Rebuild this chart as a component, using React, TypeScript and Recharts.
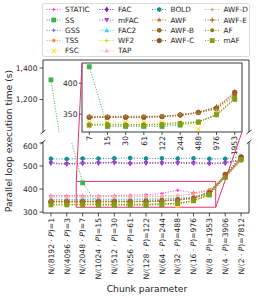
import React from 'react';
import { LineChart, Line, XAxis, YAxis, ReferenceArea } from 'recharts';

// ---------- data ----------
const chunkSizes = [1, 3, 7, 15, 30, 61, 122, 244, 488, 976, 1953, 3906, 7812];
const chunkDivisors = [8192, 4096, 2048, 1024, 512, 256, 128, 64, 32, 16, 8, 4, 2];

const staticTimes = [372, 371, 372, 371, 372, 373, 375, 381, 395, 384, 392, 455, 528];
const ssTimes = [1325, 680, 427, 330, 330, 330, 330, 332, 337, 350, 374, 452, 530];
const gssTimes = [356, 355, 356, 356, 356, 356, 357, 358, 360, 366, 385, 455, 528];
const tssTimes = [366, 366, 366, 366, 367, 366, 367, 368, 370, 380, 398, 448, 522];
const fscTimes = [338, 338, 337, 337, 337, 337, 337, 336, 326, 352, 376, 450, 525];
const facTimes = [514, 510, 513, 514, 516, 512, 515, 514, 515, 514, 512, 514, 528];
const mfacTimes = [511, 507, 510, 511, 513, 509, 512, 511, 512, 511, 509, 511, 525];
const fac2Times = [352, 352, 353, 352, 353, 353, 354, 355, 358, 365, 388, 458, 532];
const wf2Times = [350, 350, 350, 350, 351, 351, 352, 353, 356, 364, 384, 455, 530];
const tapTimes = [369, 368, 369, 369, 369, 369, 370, 371, 373, 377, 392, 452, 526];
const boldTimes = [531, 530, 532, 532, 533, 535, 532, 533, 532, 534, 531, 531, 540];
const awfTimes = [346, 346, 346, 346, 346, 346, 346, 349, 353, 361, 387, 462, 538];
const awfBTimes = [345, 345, 345, 345, 345, 345, 346, 348, 352, 360, 380, 458, 532];
const awfCTimes = [344, 344, 345, 345, 345, 345, 346, 349, 353, 359, 385, 464, 540];
const awfDTimes = [347, 347, 347, 347, 347, 347, 347, 349, 352, 358, 378, 455, 530];
const awfETimes = [345, 345, 345, 345, 345, 345, 346, 348, 353, 362, 383, 460, 535];
const afTimes = [332, 332, 333, 334, 333, 333, 334, 336, 338, 348, 374, 455, 530];
const mafTimes = [331, 331, 332, 332, 332, 332, 333, 334, 337, 349, 376, 450, 527];

const topTicks = [1000, 1200, 1400];
const bottomTicks = [300, 400, 500, 600];
const insetYTicks = [350, 400];

type Shape = 'square' | 'circle' | 'diamond' | 'hex' | 'triUp' | 'triDown' | 'plus' | 'x' | 'star';
interface Series { name: string; values: number[]; color: string; shape: Shape; size: number; }

const SERIES: Series[] = [
  { name: 'STATIC', values: staticTimes, color: '#f046e6', shape: 'plus', size: 3.5 },
  { name: 'SS', values: ssTimes, color: '#3cb44b', shape: 'square', size: 4.8 },
  { name: 'GSS', values: gssTimes, color: '#5a7cf5', shape: 'plus', size: 3.5 },
  { name: 'TSS', values: tssTimes, color: '#ff8a30', shape: 'circle', size: 3.6 },
  { name: 'FSC', values: fscTimes, color: '#ffe135', shape: 'x', size: 4 },
  { name: 'FAC', values: facTimes, color: '#8b1fa9', shape: 'diamond', size: 5 },
  { name: 'mFAC', values: mfacTimes, color: '#a540d8', shape: 'triDown', size: 5 },
  { name: 'FAC2', values: fac2Times, color: '#42d4f4', shape: 'triUp', size: 5 },
  { name: 'WF2', values: wf2Times, color: '#b5e61d', shape: 'plus', size: 4 },
  { name: 'TAP', values: tapTimes, color: '#fbb0b4', shape: 'triUp', size: 4.5 },
  { name: 'BOLD', values: boldTimes, color: '#16918c', shape: 'hex', size: 5 },
  { name: 'AWF', values: awfTimes, color: '#c27c3a', shape: 'star', size: 5 },
  { name: 'AWF-B', values: awfBTimes, color: '#9a6324', shape: 'circle', size: 4.8 },
  { name: 'AWF-C', values: awfCTimes, color: '#8a5525', shape: 'circle', size: 5.2 },
  { name: 'AWF-D', values: awfDTimes, color: '#d4a574', shape: 'plus', size: 3.5 },
  { name: 'AWF-E', values: awfETimes, color: '#a56a2c', shape: 'plus', size: 5 },
  { name: 'AF', values: afTimes, color: '#7d8400', shape: 'circle', size: 4 },
  { name: 'mAF', values: mafTimes, color: '#8a9a12', shape: 'square', size: 4.8 },
];
const INSET_SERIES = ['SS', 'FSC', 'AWF', 'AWF-B', 'AWF-C', 'AWF-D', 'AWF-E', 'AF', 'mAF'];

const rows = chunkSizes.map((_, i) => {
  const r: Record<string, number> = { idx: i };
  SERIES.forEach((s) => { r[s.name] = s.values[i]; });
  return r;
});
const insetRows = rows.slice(2, 11);

// ---------- layout ----------
const FONT = 'DejaVu Sans';
const INK = '#262626';
const RED = '#e8336b';
const PL = 43, PR = 249;
const TOP_Y0 = 60, TOP_Y1 = 132;
const BOT_Y0 = 142, BOT_Y1 = 213;
const TOP_DOMAIN: [number, number] = [994, 1451];
const BOT_DOMAIN: [number, number] = [296, 604];
const X_DOMAIN: [number, number] = [-0.5, 12.5];
const IN_X0 = 82, IN_X1 = 242, IN_Y0 = 63, IN_Y1 = 132;
const IN_XDOMAIN: [number, number] = [1.6, 10.4];
const IN_YDOMAIN: [number, number] = [321, 433];

const mainX = (v: number) => PL + ((v - X_DOMAIN[0]) / (X_DOMAIN[1] - X_DOMAIN[0])) * (PR - PL);
const botY = (v: number) => BOT_Y1 - ((v - BOT_DOMAIN[0]) / (BOT_DOMAIN[1] - BOT_DOMAIN[0])) * (BOT_Y1 - BOT_Y0);

function MarkerShape({ cx, cy, shape, color, size }: { cx: number; cy: number; shape: Shape; color: string; size: number }) {
  if (cx == null || cy == null || isNaN(cx) || isNaN(cy)) return null;
  const h = size / 2;
  switch (shape) {
    case 'square':
      return <rect x={cx - h} y={cy - h} width={size} height={size} fill={color} />;
    case 'circle':
      return <circle cx={cx} cy={cy} r={h} fill={color} />;
    case 'diamond':
      return <polygon points={`${cx},${cy - h * 1.2} ${cx + h * 0.8},${cy} ${cx},${cy + h * 1.2} ${cx - h * 0.8},${cy}`} fill={color} />;
    case 'hex': {
      const pts = [0, 1, 2, 3, 4, 5].map((k) => {
        const a = -Math.PI / 2 + (k * Math.PI) / 3;
        return `${cx + h * Math.cos(a)},${cy + h * Math.sin(a)}`;
      }).join(' ');
      return <polygon points={pts} fill={color} />;
    }
    case 'triUp':
      return <polygon points={`${cx},${cy - h} ${cx + h},${cy + h * 0.8} ${cx - h},${cy + h * 0.8}`} fill={color} />;
    case 'triDown':
      return <polygon points={`${cx},${cy + h} ${cx + h},${cy - h * 0.8} ${cx - h},${cy - h * 0.8}`} fill={color} />;
    case 'plus':
      return (
        <g stroke={color} strokeWidth={1.1}>
          <line x1={cx - h} y1={cy} x2={cx + h} y2={cy} />
          <line x1={cx} y1={cy - h} x2={cx} y2={cy + h} />
        </g>
      );
    case 'x':
      return (
        <g stroke={color} strokeWidth={1.1}>
          <line x1={cx - h} y1={cy - h} x2={cx + h} y2={cy + h} />
          <line x1={cx - h} y1={cy + h} x2={cx + h} y2={cy - h} />
        </g>
      );
    case 'star': {
      const pts: string[] = [];
      for (let k = 0; k < 10; k++) {
        const a = -Math.PI / 2 + (k * Math.PI) / 5;
        const r = k % 2 === 0 ? h * 1.1 : h * 0.5;
        pts.push(`${cx + r * Math.cos(a)},${cy + r * Math.sin(a)}`);
      }
      return <polygon points={pts.join(' ')} fill={color} />;
    }
  }
  return null;
}

function renderLines(list: Series[], prefix: string) {
  return list.map((s) => (
    <Line
      key={prefix + s.name}
      type="linear"
      dataKey={s.name}
      stroke={s.color}
      strokeWidth={1}
      strokeDasharray="1 1.6"
      isAnimationActive={false}
      activeDot={false}
      dot={(p: any) => (
        <MarkerShape key={`${prefix}${s.name}-${p.index}`} cx={p.cx} cy={p.cy} shape={s.shape} color={s.color} size={s.size} />
      )}
    />
  ));
}

const MainTick = (props: any) => {
  const { x, y, payload } = props;
  const i = payload.value as number;
  return (
    <text x={x} y={y} transform={`rotate(-90, ${x}, ${y})`} textAnchor="end" dy="0.36em" fontSize={7.6} fill={INK} fontFamily={FONT}>
      N/({chunkDivisors[i]} · <tspan fontStyle="italic">P</tspan>)={chunkSizes[i]}
    </text>
  );
};

const InsetTick = (props: any) => {
  const { x, y, payload } = props;
  const i = payload.value as number;
  return (
    <text x={x} y={y} transform={`rotate(-90, ${x}, ${y})`} textAnchor="end" dy="0.36em" fontSize={7.6} fill={INK} fontFamily={FONT}>
      {chunkSizes[i]}
    </text>
  );
};

const yTickStyle = { fontSize: 7.6, fill: INK, fontFamily: FONT };
const fmt = (v: number) => v.toLocaleString('en-US');

export default function App() {
  const legendCols = [
    { lx: 46.5, items: SERIES.slice(0, 5) },
    { lx: 99.5, items: SERIES.slice(5, 10) },
    { lx: 152, items: SERIES.slice(10, 14) },
    { lx: 205, items: SERIES.slice(14, 18) },
  ];
  const rowY = [9.5, 20, 30.3, 40.6, 50.8];

  const rectL = mainX(IN_XDOMAIN[0]);
  const rectR = mainX(IN_XDOMAIN[1]);
  const rectT = botY(IN_YDOMAIN[1]);
  const rectB = botY(IN_YDOMAIN[0]);

  const brk = (x: number, y: number, k: string) => (
    <line key={k} x1={x - 2.5} y1={y + 2} x2={x + 2.5} y2={y - 2} stroke={INK} strokeWidth={0.9} />
  );

  return (
    <div style={{ position: 'absolute', left: 0, top: 0, width: 258, height: 298, background: '#fff', fontFamily: FONT, overflow: 'hidden' }}>
      {/* top panel (broken axis, upper part) */}
      <div style={{ position: 'absolute', left: 0, top: TOP_Y0 }}>
        <LineChart width={PR + 1} height={TOP_Y1 - TOP_Y0} data={rows} margin={{ top: 0, right: 1, bottom: 0, left: 0 }}>
          <XAxis type="number" dataKey="idx" domain={X_DOMAIN} allowDataOverflow hide />
          <YAxis
            type="number"
            domain={TOP_DOMAIN}
            allowDataOverflow
            ticks={topTicks}
            tickFormatter={fmt}
            width={PL}
            axisLine={false}
            tickLine={{ stroke: INK, strokeWidth: 0.8 }}
            tickSize={3.5}
            tickMargin={2}
            tick={yTickStyle}
          />
          {renderLines(SERIES, 't')}
        </LineChart>
      </div>

      {/* bottom panel */}
      <div style={{ position: 'absolute', left: 0, top: BOT_Y0 }}>
        <LineChart width={PR + 1} height={BOT_Y1 - BOT_Y0 + 80} data={rows} margin={{ top: 0, right: 1, bottom: 0, left: 0 }}>
          <XAxis
            type="number"
            dataKey="idx"
            domain={X_DOMAIN}
            allowDataOverflow
            ticks={chunkSizes.map((_, i) => i)}
            interval={0}
            height={80}
            axisLine={false}
            tickLine={{ stroke: INK, strokeWidth: 0.8 }}
            tickSize={3.5}
            tickMargin={1.5}
            tick={<MainTick />}
          />
          <YAxis
            type="number"
            domain={BOT_DOMAIN}
            allowDataOverflow
            ticks={bottomTicks}
            width={PL}
            axisLine={false}
            tickLine={{ stroke: INK, strokeWidth: 0.8 }}
            tickSize={3.5}
            tickMargin={2}
            tick={yTickStyle}
          />
          {renderLines(SERIES, 'b')}
          <ReferenceArea
            x1={IN_XDOMAIN[0]}
            x2={IN_XDOMAIN[1]}
            y1={IN_YDOMAIN[0]}
            y2={IN_YDOMAIN[1]}
            fill="none"
            fillOpacity={0}
            stroke={RED}
            strokeWidth={1}
            ifOverflow="visible"
          />
        </LineChart>
      </div>

      {/* inset */}
      <div style={{ position: 'absolute', left: IN_X0, top: IN_Y0, width: IN_X1 - IN_X0, height: IN_Y1 - IN_Y0, background: '#fff' }} />
      <div style={{ position: 'absolute', left: IN_X0 - 20, top: IN_Y0 }}>
        <LineChart width={IN_X1 - IN_X0 + 20} height={IN_Y1 - IN_Y0 + 22} data={insetRows} margin={{ top: 0, right: 0, bottom: 0, left: 0 }}>
          <XAxis
            type="number"
            dataKey="idx"
            domain={IN_XDOMAIN}
            allowDataOverflow
            ticks={[2, 3, 4, 5, 6, 7, 8, 9, 10]}
            interval={0}
            height={22}
            axisLine={false}
            tickLine={{ stroke: INK, strokeWidth: 0.8 }}
            tickSize={3}
            tickMargin={1}
            tick={<InsetTick />}
          />
          <YAxis
            type="number"
            domain={IN_YDOMAIN}
            allowDataOverflow
            ticks={insetYTicks}
            width={20}
            axisLine={false}
            tickLine={{ stroke: INK, strokeWidth: 0.8 }}
            tickSize={3}
            tickMargin={1.5}
            tick={yTickStyle}
          />
          {renderLines(SERIES.filter((s) => INSET_SERIES.includes(s.name)), 'i')}
        </LineChart>
      </div>

      {/* frames, breaks, connectors, legend, titles */}
      <svg width={258} height={298} style={{ position: 'absolute', left: 0, top: 0, pointerEvents: 'none' }}>
        <g stroke={INK} strokeWidth={0.9} fill="none">
          <polyline points={`${PL},${TOP_Y1} ${PL},${TOP_Y0} ${PR},${TOP_Y0} ${PR},${TOP_Y1}`} />
          <polyline points={`${PL},${BOT_Y0} ${PL},${BOT_Y1} ${PR},${BOT_Y1} ${PR},${BOT_Y0}`} />
          <rect x={IN_X0} y={IN_Y0} width={IN_X1 - IN_X0} height={IN_Y1 - IN_Y0} />
        </g>
        {brk(PL, TOP_Y1, 'b1')}
        {brk(PR, TOP_Y1, 'b2')}
        {brk(PL, BOT_Y0, 'b3')}
        {brk(PR, BOT_Y0, 'b4')}
        <line x1={rectL} y1={rectT} x2={IN_X0} y2={IN_Y0} stroke={RED} strokeWidth={1} />
        <line x1={rectR} y1={rectB} x2={IN_X1} y2={IN_Y1} stroke={RED} strokeWidth={1} />

        <rect x={42.5} y={3.5} width={207} height={53} rx={2} fill="#fff" stroke="#d0d0d0" strokeWidth={0.8} />
        {legendCols.map((col, ci) =>
          col.items.map((s, ri) => {
            const y = rowY[ri];
            return (
              <g key={`lg${ci}-${ri}`}>
                <line x1={col.lx} y1={y} x2={col.lx + 14.5} y2={y} stroke={s.color} strokeWidth={1} strokeDasharray="1 1.6" />
                <MarkerShape cx={col.lx + 7.25} cy={y} shape={s.shape} color={s.color} size={s.size} />
                <text x={col.lx + 18.5} y={y + 2.6} fontSize={7.3} fill={INK} fontFamily={FONT}>{s.name}</text>
              </g>
            );
          })
        )}

        <text x={11.5} y={141} transform="rotate(-90, 11.5, 141)" textAnchor="middle" fontSize={9.2} fill={INK} fontFamily={FONT}>
          Parallel loop execution time (s)
        </text>
        <text x={147} y={292} textAnchor="middle" fontSize={9.2} fill={INK} fontFamily={FONT}>
          Chunk parameter
        </text>
      </svg>
    </div>
  );
}
